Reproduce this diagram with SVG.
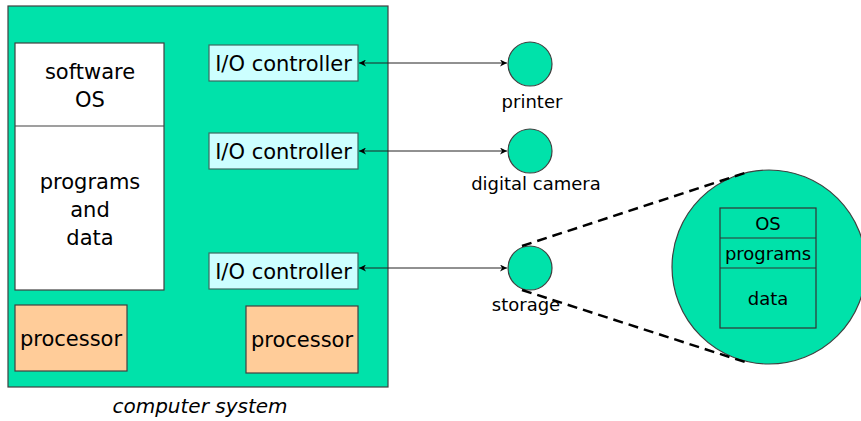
<svg xmlns="http://www.w3.org/2000/svg" width="861" height="421" viewBox="0 0 861 421">
  <style>
    text { font-family: "DejaVu Sans", Verdana, sans-serif; fill: #000; }
    .green { fill: #00e2aa; stroke: #404040; stroke-width: 1.2; }
    .mem { fill: #ffffff; stroke: #404040; stroke-width: 1.2; }
    .io { fill: #ccffff; stroke: #3a6a60; stroke-width: 1.2; }
    .cpu { fill: #ffcc99; stroke: #404040; stroke-width: 1.2; }
    .t21 { font-size: 21px; }
    .t18 { font-size: 18px; }
    .link { stroke: #222; stroke-width: 1; fill: none; marker-start: url(#tip); marker-end: url(#tip); }
    .zoom { stroke: #000; stroke-width: 2.5; stroke-dasharray: 10 6; fill: none; }
  </style>
  <defs>
    <marker id="tip" viewBox="0 0 10 10" refX="10" refY="5" markerWidth="7" markerHeight="7" orient="auto-start-reverse" markerUnits="userSpaceOnUse">
      <path d="M0,0 L10,5 L0,10 L3,5 Z" fill="#000"/>
    </marker>
  </defs>

  <!-- computer system enclosure -->
  <g id="computer">
    <rect class="green" x="8" y="6" width="380" height="381"/>
    <text x="200" y="413" font-size="20" font-style="italic" text-anchor="middle">computer system</text>
  </g>

  <!-- memory: software OS / programs and data -->
  <g id="memory">
    <rect class="mem" x="15" y="43" width="149" height="247"/>
    <line x1="15" y1="126" x2="164" y2="126" stroke="#404040" stroke-width="1.2"/>
    <text class="t21" x="90" y="79" text-anchor="middle">software</text>
    <text class="t21" x="90" y="107" text-anchor="middle">OS</text>
    <text class="t21" x="90" y="189" text-anchor="middle">programs</text>
    <text class="t21" x="90" y="217" text-anchor="middle">and</text>
    <text class="t21" x="90" y="245" text-anchor="middle">data</text>
  </g>

  <g id="io1">
    <rect class="io" x="209" y="45" width="149" height="36"/>
    <text class="t21" x="283.5" y="71" text-anchor="middle">I/O controller</text>
  </g>
  <g id="io2">
    <rect class="io" x="209" y="133" width="149" height="36"/>
    <text class="t21" x="283.5" y="159" text-anchor="middle">I/O controller</text>
  </g>
  <g id="io3">
    <rect class="io" x="209" y="253" width="149" height="36"/>
    <text class="t21" x="283.5" y="279" text-anchor="middle">I/O controller</text>
  </g>

  <g id="cpu1">
    <rect class="cpu" x="15" y="305" width="112" height="66"/>
    <text class="t21" x="71" y="346" text-anchor="middle">processor</text>
  </g>
  <g id="cpu2">
    <rect class="cpu" x="246" y="306" width="112" height="67"/>
    <text class="t21" x="302" y="347" text-anchor="middle">processor</text>
  </g>

  <!-- peripherals -->
  <g id="printer">
    <circle class="green" cx="530" cy="64" r="22"/>
    <text class="t18" x="532" y="108" text-anchor="middle">printer</text>
  </g>
  <g id="camera">
    <circle class="green" cx="530" cy="151" r="22"/>
    <text class="t18" x="536" y="190" text-anchor="middle">digital camera</text>
  </g>
  <g id="storage">
    <circle class="green" cx="530" cy="268" r="22"/>
    <text class="t18" x="526" y="311" text-anchor="middle">storage</text>
  </g>

  <!-- storage contents, enlarged -->
  <g id="storage-detail">
    <circle class="green" cx="769" cy="267" r="97"/>
    <rect x="720" y="208" width="96" height="120" fill="none" stroke="#333" stroke-width="1.2"/>
    <line x1="720" y1="238" x2="816" y2="238" stroke="#333" stroke-width="1.2"/>
    <line x1="720" y1="268" x2="816" y2="268" stroke="#333" stroke-width="1.2"/>
    <text class="t18" x="768" y="230" text-anchor="middle">OS</text>
    <text class="t18" x="768" y="260" text-anchor="middle">programs</text>
    <text class="t18" x="768" y="305" text-anchor="middle">data</text>
  </g>

  <g id="connectors">
    <line class="link" x1="359" y1="63" x2="507" y2="63"/>
    <line class="link" x1="359" y1="151" x2="507" y2="151"/>
    <line class="link" x1="359" y1="268" x2="507" y2="268"/>
    <line class="zoom" x1="522" y1="246" x2="748" y2="172"/>
    <line class="zoom" x1="522" y1="290" x2="748" y2="363"/>
  </g>
</svg>
